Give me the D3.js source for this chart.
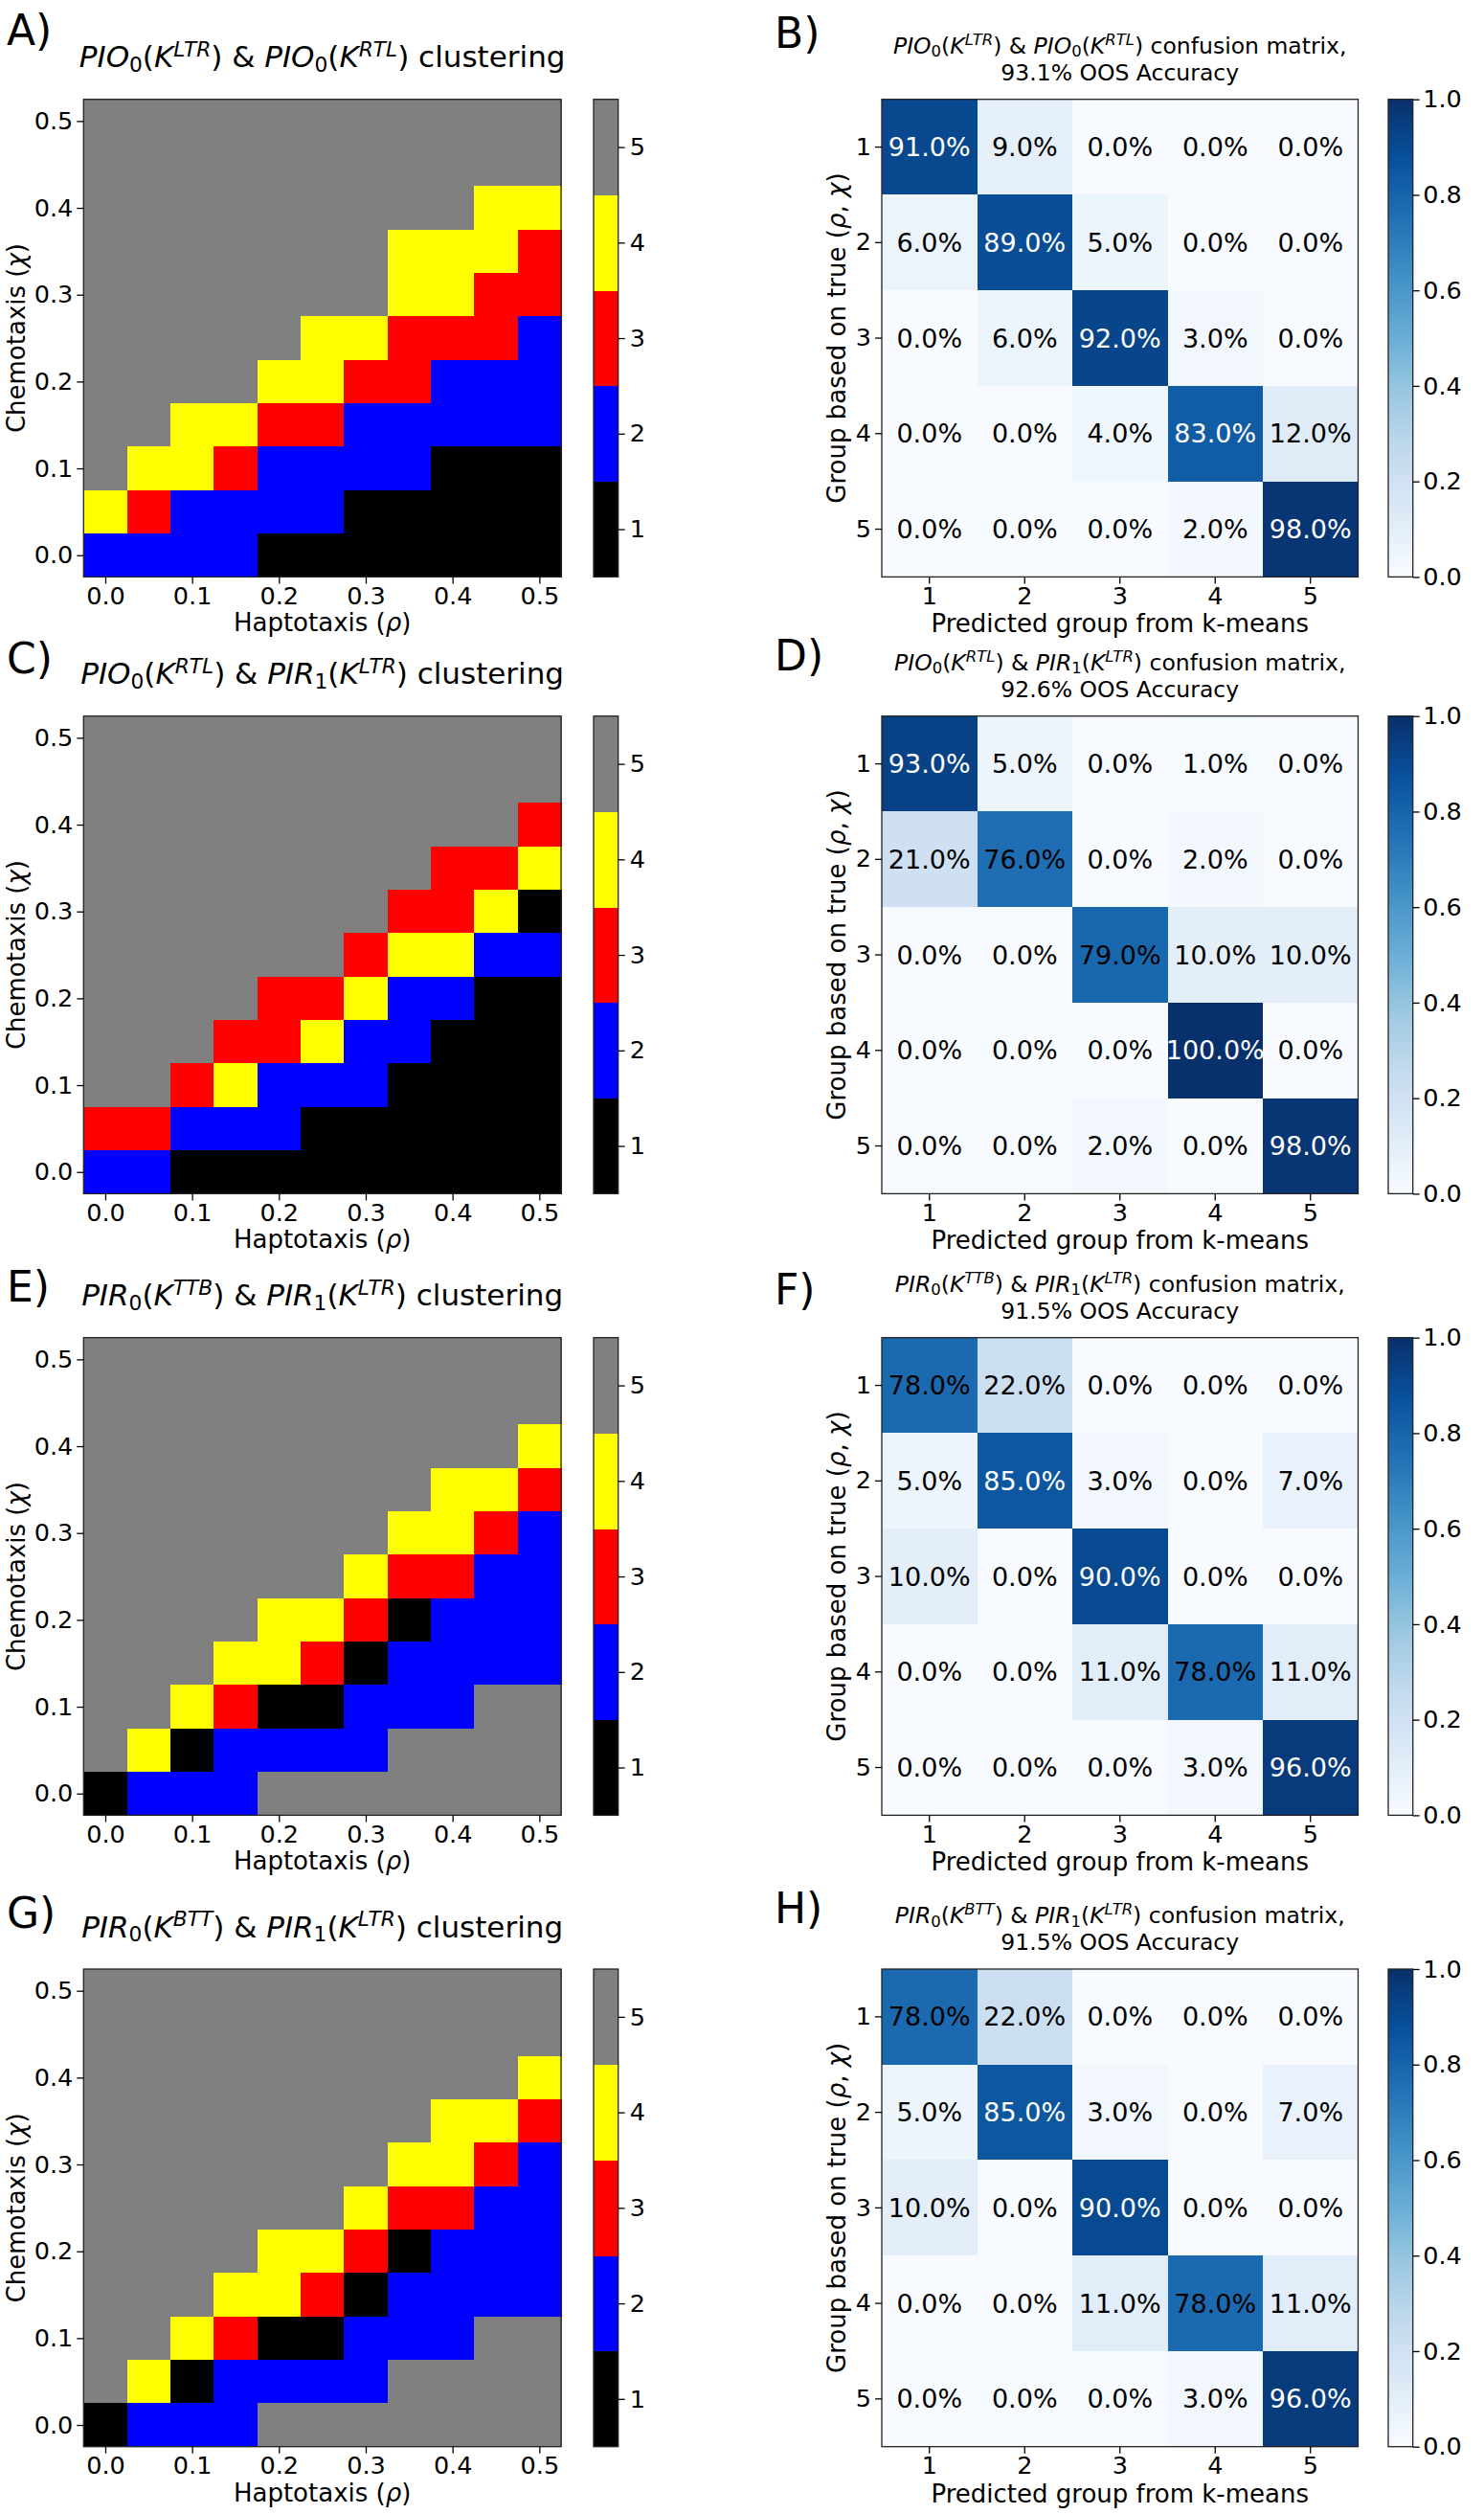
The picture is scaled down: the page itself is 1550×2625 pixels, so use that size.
<!DOCTYPE html>
<html><head><meta charset="utf-8">
<script src="https://cdn.jsdelivr.net/npm/d3@7"></script>
<style>
body{margin:0;background:#fff}
text{font-family:"DejaVu Sans",sans-serif;fill:#000;white-space:pre}
</style>
</head><body>
<svg id="chart" width="1550" height="2625" xmlns="http://www.w3.org/2000/svg"></svg>
<script>
// ---------------- DATA ----------------
const rhoValues = [0.00,0.05,0.10,0.15,0.20,0.25,0.30,0.35,0.40,0.45,0.50];
const chiValues = [0.00,0.05,0.10,0.15,0.20,0.25,0.30,0.35,0.40,0.45,0.50];
const axisTicks = [0.0,0.1,0.2,0.3,0.4,0.5];
const groupLabels = [1,2,3,4,5];
const groupColors = ["#000000","#0000ff","#ff0000","#ffff00","#808080"];
const bluesStops = ["#f7fbff","#deebf7","#c6dbef","#9ecae1","#6baed6","#4292c6","#2171b5","#08519c","#08306b"];
const colorbarTicks = [0.0,0.2,0.4,0.6,0.8,1.0];

// cluster grids: rows from chi = 0.50 (top) down to chi = 0.00 (bottom), columns rho = 0.00 .. 0.50
const clusterA = [
 [5,5,5,5,5,5,5,5,5,5,5],
 [5,5,5,5,5,5,5,5,5,5,5],
 [5,5,5,5,5,5,5,5,5,4,4],
 [5,5,5,5,5,5,5,4,4,4,3],
 [5,5,5,5,5,5,5,4,4,3,3],
 [5,5,5,5,5,4,4,3,3,3,2],
 [5,5,5,5,4,4,3,3,2,2,2],
 [5,5,4,4,3,3,2,2,2,2,2],
 [5,4,4,3,2,2,2,2,1,1,1],
 [4,3,2,2,2,2,1,1,1,1,1],
 [2,2,2,2,1,1,1,1,1,1,1]
];
const clusterC = [
 [5,5,5,5,5,5,5,5,5,5,5],
 [5,5,5,5,5,5,5,5,5,5,5],
 [5,5,5,5,5,5,5,5,5,5,3],
 [5,5,5,5,5,5,5,5,3,3,4],
 [5,5,5,5,5,5,5,3,3,4,1],
 [5,5,5,5,5,5,3,4,4,2,2],
 [5,5,5,5,3,3,4,2,2,1,1],
 [5,5,5,3,3,4,2,2,1,1,1],
 [5,5,3,4,2,2,2,1,1,1,1],
 [3,3,2,2,2,1,1,1,1,1,1],
 [2,2,1,1,1,1,1,1,1,1,1]
];
const clusterE = [
 [5,5,5,5,5,5,5,5,5,5,5],
 [5,5,5,5,5,5,5,5,5,5,5],
 [5,5,5,5,5,5,5,5,5,5,4],
 [5,5,5,5,5,5,5,5,4,4,3],
 [5,5,5,5,5,5,5,4,4,3,2],
 [5,5,5,5,5,5,4,3,3,2,2],
 [5,5,5,5,4,4,3,1,2,2,2],
 [5,5,5,4,4,3,1,2,2,2,2],
 [5,5,4,3,1,1,2,2,2,5,5],
 [5,4,1,2,2,2,2,5,5,5,5],
 [1,2,2,2,5,5,5,5,5,5,5]
];
const clusterG = [
 [5,5,5,5,5,5,5,5,5,5,5],
 [5,5,5,5,5,5,5,5,5,5,5],
 [5,5,5,5,5,5,5,5,5,5,4],
 [5,5,5,5,5,5,5,5,4,4,3],
 [5,5,5,5,5,5,5,4,4,3,2],
 [5,5,5,5,5,5,4,3,3,2,2],
 [5,5,5,5,4,4,3,1,2,2,2],
 [5,5,5,4,4,3,1,2,2,2,2],
 [5,5,4,3,1,1,2,2,2,5,5],
 [5,4,1,2,2,2,2,5,5,5,5],
 [1,2,2,2,5,5,5,5,5,5,5]
];

// confusion matrices (percent), rows = true group 1..5, columns = predicted group 1..5
const confB = [[91,9,0,0,0],[6,89,5,0,0],[0,6,92,3,0],[0,0,4,83,12],[0,0,0,2,98]];
const confD = [[93,5,0,1,0],[21,76,0,2,0],[0,0,79,10,10],[0,0,0,100,0],[0,0,2,0,98]];
const confF = [[78,22,0,0,0],[5,85,3,0,7],[10,0,90,0,0],[0,0,11,78,11],[0,0,0,3,96]];
const confH = [[78,22,0,0,0],[5,85,3,0,7],[10,0,90,0,0],[0,0,11,78,11],[0,0,0,3,96]];

const pairNames = [
 "$PIO_0(K^{LTR})$ & $PIO_0(K^{RTL})$",
 "$PIO_0(K^{RTL})$ & $PIR_1(K^{LTR})$",
 "$PIR_0(K^{TTB})$ & $PIR_1(K^{LTR})$",
 "$PIR_0(K^{BTT})$ & $PIR_1(K^{LTR})$"
];
const accuracies = ["93.1%","92.6%","91.5%","91.5%"];
const leftLetters = ["A)","C)","E)","G)"];
const rightLetters = ["B)","D)","F)","H)"];
const clusterXLabel = "Haptotaxis ($\u03c1$)";
const clusterYLabel = "Chemotaxis ($\u03c7$)";
const confXLabel = "Predicted group from k-means";
const confYLabel = "Group based on true ($\u03c1$, $\u03c7$)";

// ---------------- LAYOUT ----------------
const rowTops = [103.7, 747.7, 1396.7, 2056];
const leftLetterBase = [47, 703, 1359, 2013];
const rightLetterBase = [50, 700, 1362, 2008];
const clX = 87.3, clSize = 498.7, clCbX = 620, cbW = 25.7;
const cmX = 921, cmW = 497.5, cmH = 498.7, cmCbX = 1450;
const tickFont = 25.5, labelFont = 26;

const svg = d3.select("#chart");

function parseMath(s){
  const out=[]; let math=false, i=0;
  const isLetter=c=>/[A-Za-z\u03c1\u03c7]/.test(c);
  const push=(t,it,pos)=>{const l=out[out.length-1]; if(l&&l.it===it&&l.pos===pos) l.t+=t; else out.push({t,it,pos});};
  while(i<s.length){
    const c=s[i];
    if(c==='$'){math=!math;i++;continue;}
    if(math&&(c==='_'||c==='^')){
      const pos=c==='_'?'sub':'sup'; i++;
      let g;
      if(s[i]==='{'){const j=s.indexOf('}',i); g=s.slice(i+1,j); i=j+1;} else {g=s[i]; i++;}
      for(const ch of g) push(ch,isLetter(ch),pos);
      continue;
    }
    push(c, math&&isLetter(c), 'base'); i++;
  }
  return out;
}
function drawMath(g, x, y, str, size, anchor, rotate){
  const t=g.append('text').attr('font-size',size).attr('text-anchor',anchor||'middle')
    .attr('xml:space','preserve');
  if(rotate) t.attr('transform',`translate(${x},${y}) rotate(${rotate})`).attr('x',0).attr('y',0);
  else t.attr('x',x).attr('y',y);
  let cur=0;
  parseMath(str).forEach(seg=>{
    const target = seg.pos==='sub'?0.16*size : seg.pos==='sup'?-0.37*size : 0;
    t.append('tspan').attr('dy',(target-cur)+'px')
      .attr('font-size', seg.pos==='base'?size:size*0.7)
      .attr('font-style', seg.it?'italic':'normal')
      .text(seg.t);
    cur=target;
  });
  return t;
}
function styleAxis(g){
  g.select('.domain').remove();
  g.selectAll('.tick line').attr('stroke','#000').attr('stroke-width',1.3);
  g.selectAll('.tick text').attr('font-size',tickFont).attr('font-family','"DejaVu Sans",sans-serif').attr('fill','#000');
}

// ---------------- CLUSTER PANELS ----------------
function drawCluster(i, grid){
  const top=rowTops[i], g=svg.append('g');
  const x=d3.scaleLinear().domain([-0.025,0.525]).range([clX,clX+clSize]);
  const y=d3.scaleLinear().domain([-0.025,0.525]).range([top+clSize,top]);
  const color=d3.scaleOrdinal().domain(groupLabels).range(groupColors);
  const cells=[];
  grid.forEach((row,r)=>row.forEach((v,c)=>cells.push({rho:rhoValues[c],chi:chiValues[chiValues.length-1-r],v})));
  g.append('g').attr('shape-rendering','crispEdges').selectAll('rect').data(cells).join('rect')
    .attr('x',d=>x(d.rho-0.025)).attr('y',d=>y(d.chi+0.025))
    .attr('width',d=>x(d.rho+0.025)-x(d.rho-0.025)+0.5)
    .attr('height',d=>y(d.chi-0.025)-y(d.chi+0.025)+0.5)
    .attr('fill',d=>color(d.v));
  g.append('rect').attr('x',clX).attr('y',top).attr('width',clSize).attr('height',clSize)
    .attr('fill','none').attr('stroke','#222').attr('stroke-width',1.3);
  const ax=g.append('g').attr('transform',`translate(0,${top+clSize})`)
    .call(d3.axisBottom(x).tickValues(axisTicks).tickFormat(d3.format('.1f')).tickSize(7).tickPadding(3.5));
  styleAxis(ax);
  const ay=g.append('g').attr('transform',`translate(${clX},0)`)
    .call(d3.axisLeft(y).tickValues(axisTicks).tickFormat(d3.format('.1f')).tickSize(7).tickPadding(4));
  styleAxis(ay);
  drawMath(g, clX+clSize/2, top+clSize+57, clusterXLabel, labelFont, 'middle');
  drawMath(g, 26, top+clSize/2, clusterYLabel, labelFont, 'middle', -90);
  drawMath(g, clX+clSize/2, top-33.5, pairNames[i]+" clustering", 31, 'middle');
  g.append('text').attr('x',7).attr('y',leftLetterBase[i]).attr('font-size',44).text(leftLetters[i]);
  // discrete colorbar
  const cy=d3.scaleLinear().domain([0.5,5.5]).range([top+clSize,top]);
  g.append('g').attr('shape-rendering','crispEdges').selectAll('rect').data(groupLabels).join('rect')
    .attr('x',clCbX).attr('width',cbW).attr('y',d=>cy(d+0.5)).attr('height',d=>cy(d-0.5)-cy(d+0.5)+0.5)
    .attr('fill',d=>color(d));
  g.append('rect').attr('x',clCbX).attr('y',top).attr('width',cbW).attr('height',clSize)
    .attr('fill','none').attr('stroke','#222').attr('stroke-width',1.3);
  const acb=g.append('g').attr('transform',`translate(${clCbX+cbW},0)`)
    .call(d3.axisRight(cy).tickValues(groupLabels).tickFormat(d3.format('d')).tickSize(7).tickPadding(5));
  styleAxis(acb);
}

// ---------------- CONFUSION PANELS ----------------
function drawConfusion(i, mat){
  const top=rowTops[i], g=svg.append('g');
  const x=d3.scaleBand().domain(groupLabels).range([cmX,cmX+cmW]);
  const y=d3.scaleBand().domain(groupLabels).range([top,top+cmH]);
  const col=d3.scaleLinear().domain(bluesStops.map((d,k)=>k/(bluesStops.length-1))).range(bluesStops);
  const cells=[];
  mat.forEach((row,r)=>row.forEach((v,c)=>cells.push({t:groupLabels[r],p:groupLabels[c],v})));
  g.append('g').attr('shape-rendering','crispEdges').selectAll('rect').data(cells).join('rect')
    .attr('x',d=>x(d.p)).attr('y',d=>y(d.t)).attr('width',x.bandwidth()+0.5).attr('height',y.bandwidth()+0.5)
    .attr('fill',d=>col(d.v/100));
  g.selectAll('text.pct').data(cells).join('text').attr('class','pct')
    .attr('x',d=>x(d.p)+x.bandwidth()/2).attr('y',d=>y(d.t)+y.bandwidth()/2)
    .attr('text-anchor','middle').attr('dominant-baseline','central').attr('font-size',27)
    .style('fill',d=>d.v>=80?'#fff':'#000')
    .text(d=>d3.format('.1f')(d.v)+'%');
  g.append('rect').attr('x',cmX).attr('y',top).attr('width',cmW).attr('height',cmH)
    .attr('fill','none').attr('stroke','#222').attr('stroke-width',1.3);
  const ax=g.append('g').attr('transform',`translate(0,${top+cmH})`)
    .call(d3.axisBottom(x).tickSize(7).tickPadding(3.5));
  styleAxis(ax);
  const ay=g.append('g').attr('transform',`translate(${cmX},0)`)
    .call(d3.axisLeft(y).tickSize(7).tickPadding(4));
  styleAxis(ay);
  drawMath(g, cmX+cmW/2, top+cmH+58, confXLabel, labelFont, 'middle');
  drawMath(g, 883, top+cmH/2, confYLabel, labelFont, 'middle', -90);
  drawMath(g, cmX+cmW/2, top-48, pairNames[i]+" confusion matrix,", 23.5, 'middle');
  drawMath(g, cmX+cmW/2, top-20, accuracies[i]+" OOS Accuracy", 23.5, 'middle');
  g.append('text').attr('x',809).attr('y',rightLetterBase[i]).attr('font-size',44).text(rightLetters[i]);
  // colorbar
  const gid='blues'+i;
  const grad=svg.append('defs').append('linearGradient').attr('id',gid)
    .attr('x1','0').attr('y1','1').attr('x2','0').attr('y2','0');
  bluesStops.forEach((c,k)=>grad.append('stop').attr('offset',k/(bluesStops.length-1)).attr('stop-color',c));
  g.append('rect').attr('x',cmCbX).attr('y',top).attr('width',cbW).attr('height',cmH)
    .attr('fill',`url(#${gid})`).attr('stroke','#222').attr('stroke-width',1.3);
  const cy=d3.scaleLinear().domain([0,1]).range([top+cmH,top]);
  const acb=g.append('g').attr('transform',`translate(${cmCbX+cbW},0)`)
    .call(d3.axisRight(cy).tickValues(colorbarTicks).tickFormat(d3.format('.1f')).tickSize(7).tickPadding(3.5));
  styleAxis(acb);
}

[clusterA,clusterC,clusterE,clusterG].forEach((m,i)=>drawCluster(i,m));
[confB,confD,confF,confH].forEach((m,i)=>drawConfusion(i,m));
</script>
</body></html>
